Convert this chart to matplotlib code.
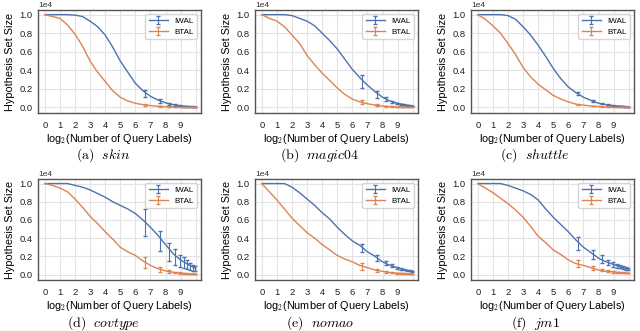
import numpy as np
import matplotlib
matplotlib.use("Agg")
from matplotlib import pyplot as plt

plt.rcParams['font.family'] = ['Liberation Sans', 'DejaVu Sans']
plt.rcParams['mathtext.fontset'] = 'cm'

BLUE = '#4c72b0'
ORANGE = '#dd8452'

# x = log2(number of query labels)
XS = [0, 0.5, 1, 1.5, 2, 2.5, 3, 3.5, 4, 4.5, 5, 5.5, 6, 6.5, 7, 7.5, 8, 8.5, 9, 9.5, 10]
QUERY_COUNTS = [100, 200, 300, 400, 500, 600, 700, 800, 900, 1000]

captions = ['(a)', '(b)', '(c)', '(d)', '(e)', '(f)']
names = ['skin', 'magic04', 'shuttle', 'covtype', 'nomao', 'jm1']

# hypothesis set size (x 1e4)
iwal_skin = [1.0, 1.0, 1.0, 1.0, 0.995, 0.98, 0.93, 0.87, 0.78, 0.65, 0.50, 0.38, 0.26, 0.18, 0.12, 0.08, 0.05, 0.03, 0.018, 0.01, 0.006]
btal_skin = [1.0, 0.98, 0.96, 0.89, 0.79, 0.66, 0.50, 0.38, 0.28, 0.18, 0.11, 0.07, 0.045, 0.03, 0.02, 0.013, 0.008, 0.005, 0.003, 0.002, 0.001]
iwal_magic = [1.0, 1.0, 1.0, 1.0, 0.99, 0.96, 0.93, 0.88, 0.80, 0.72, 0.63, 0.52, 0.41, 0.32, 0.24, 0.17, 0.11, 0.07, 0.045, 0.028, 0.015]
btal_magic = [1.0, 0.96, 0.93, 0.87, 0.78, 0.69, 0.56, 0.46, 0.37, 0.29, 0.21, 0.14, 0.09, 0.06, 0.04, 0.025, 0.015, 0.01, 0.006, 0.004, 0.002]
iwal_shuttle = [1.0, 1.0, 1.0, 1.0, 0.99, 0.95, 0.87, 0.78, 0.67, 0.55, 0.42, 0.31, 0.22, 0.16, 0.11, 0.075, 0.045, 0.03, 0.018, 0.012, 0.008]
btal_shuttle = [1.0, 0.95, 0.88, 0.80, 0.69, 0.57, 0.43, 0.33, 0.25, 0.19, 0.13, 0.09, 0.06, 0.035, 0.025, 0.015, 0.01, 0.006, 0.004, 0.002, 0.001]
iwal_covtype = [1.0, 1.0, 1.0, 1.0, 0.98, 0.96, 0.93, 0.89, 0.85, 0.80, 0.76, 0.72, 0.67, 0.60, 0.52, 0.43, 0.33, 0.23, 0.16, 0.11, 0.065]
btal_covtype = [1.0, 0.98, 0.95, 0.91, 0.83, 0.74, 0.64, 0.56, 0.47, 0.39, 0.30, 0.25, 0.21, 0.15, 0.10, 0.065, 0.04, 0.025, 0.015, 0.009, 0.005]
iwal_nomao = [1.0, 1.0, 1.0, 1.0, 0.96, 0.90, 0.83, 0.76, 0.68, 0.61, 0.52, 0.44, 0.37, 0.32, 0.25, 0.20, 0.14, 0.10, 0.075, 0.05, 0.035]
btal_nomao = [1.0, 0.91, 0.82, 0.72, 0.62, 0.54, 0.46, 0.40, 0.33, 0.27, 0.21, 0.17, 0.14, 0.10, 0.075, 0.05, 0.035, 0.022, 0.015, 0.01, 0.006]
iwal_jm1 = [1.0, 1.0, 1.0, 1.0, 0.98, 0.95, 0.92, 0.88, 0.82, 0.72, 0.63, 0.55, 0.47, 0.38, 0.30, 0.24, 0.18, 0.14, 0.11, 0.08, 0.06]
btal_jm1 = [1.0, 0.95, 0.90, 0.84, 0.78, 0.71, 0.63, 0.53, 0.42, 0.35, 0.27, 0.22, 0.16, 0.12, 0.10, 0.075, 0.05, 0.035, 0.03, 0.02, 0.015]

# error bar means / half widths at QUERY_COUNTS
iwal_skin_m = [0.15, 0.07, 0.04, 0.027, 0.019, 0.015, 0.012, 0.01, 0.008, 0.006]
iwal_skin_e = [0.04, 0.02, 0.012, 0.008, 0.006, 0.005, 0.004, 0.003, 0.003, 0.002]
btal_skin_m = [0.025, 0.012, 0.007, 0.005, 0.003, 0.002, 0.002, 0.002, 0.001, 0.001]
btal_skin_e = [0.01, 0.005, 0.003, 0.002, 0.002, 0.001, 0.001, 0.001, 0.001, 0.001]
iwal_magic_m = [0.28, 0.14, 0.09, 0.06, 0.045, 0.035, 0.028, 0.022, 0.018, 0.015]
iwal_magic_e = [0.07, 0.035, 0.018, 0.012, 0.008, 0.006, 0.005, 0.004, 0.003, 0.003]
btal_magic_m = [0.055, 0.025, 0.015, 0.01, 0.006, 0.005, 0.004, 0.003, 0.002, 0.002]
btal_magic_e = [0.02, 0.008, 0.005, 0.003, 0.002, 0.002, 0.001, 0.001, 0.001, 0.001]
iwal_shuttle_m = [0.15, 0.07, 0.04, 0.03, 0.02, 0.016, 0.013, 0.011, 0.009, 0.008]
iwal_shuttle_e = [0.015, 0.008, 0.005, 0.004, 0.003, 0.002, 0.002, 0.002, 0.001, 0.001]
btal_shuttle_m = [0.03, 0.015, 0.01, 0.006, 0.004, 0.003, 0.002, 0.002, 0.001, 0.001]
btal_shuttle_e = [0.005, 0.003, 0.002, 0.001, 0.001, 0.001, 0.001, 0.001, 0.001, 0.001]
iwal_covtype_m = [0.57, 0.37, 0.25, 0.19, 0.15, 0.13, 0.11, 0.09, 0.075, 0.065]
iwal_covtype_e = [0.15, 0.11, 0.10, 0.09, 0.07, 0.06, 0.05, 0.04, 0.035, 0.03]
btal_covtype_m = [0.13, 0.055, 0.035, 0.022, 0.015, 0.012, 0.009, 0.007, 0.006, 0.005]
btal_covtype_e = [0.06, 0.025, 0.015, 0.01, 0.008, 0.006, 0.005, 0.004, 0.003, 0.003]
iwal_nomao_m = [0.29, 0.18, 0.13, 0.1, 0.075, 0.065, 0.055, 0.045, 0.04, 0.035]
iwal_nomao_e = [0.045, 0.03, 0.02, 0.015, 0.012, 0.01, 0.008, 0.007, 0.006, 0.005]
btal_nomao_m = [0.09, 0.045, 0.03, 0.022, 0.015, 0.012, 0.01, 0.008, 0.007, 0.006]
btal_nomao_e = [0.04, 0.02, 0.012, 0.008, 0.006, 0.005, 0.004, 0.003, 0.003, 0.002]
iwal_jm1_m = [0.34, 0.22, 0.17, 0.13, 0.11, 0.095, 0.085, 0.075, 0.065, 0.06]
iwal_jm1_e = [0.07, 0.05, 0.04, 0.03, 0.025, 0.02, 0.018, 0.015, 0.013, 0.012]
btal_jm1_m = [0.12, 0.07, 0.05, 0.035, 0.03, 0.025, 0.022, 0.02, 0.017, 0.015]
btal_jm1_e = [0.04, 0.02, 0.015, 0.01, 0.008, 0.006, 0.005, 0.004, 0.004, 0.003]

iwal_all = [iwal_skin, iwal_magic, iwal_shuttle, iwal_covtype, iwal_nomao, iwal_jm1]
btal_all = [btal_skin, btal_magic, btal_shuttle, btal_covtype, btal_nomao, btal_jm1]
iwal_eb = [(iwal_skin_m, iwal_skin_e), (iwal_magic_m, iwal_magic_e), (iwal_shuttle_m, iwal_shuttle_e),
           (iwal_covtype_m, iwal_covtype_e), (iwal_nomao_m, iwal_nomao_e), (iwal_jm1_m, iwal_jm1_e)]
btal_eb = [(btal_skin_m, btal_skin_e), (btal_magic_m, btal_magic_e), (btal_shuttle_m, btal_shuttle_e),
           (btal_covtype_m, btal_covtype_e), (btal_nomao_m, btal_nomao_e), (btal_jm1_m, btal_jm1_e)]

W, H = 640, 331
fig = plt.figure(figsize=(W / 100, H / 100), dpi=100)

lefts = [38, 255, 471]
cap_centers = [103, 320, 535]
rows = [(10, 103, 155), (179, 101, 323)]
eb_x = np.log2(QUERY_COUNTS)

for i in range(6):
    r, c = divmod(i, 3)
    top, h, cap_y = rows[r]
    ax = fig.add_axes([lefts[c] / W, 1 - (top + h) / H, 163 / W, h / H])
    ax.set_facecolor('white')
    ax.grid(True, color='#e3e3e3', linewidth=0.8)
    ax.set_axisbelow(True)
    for s in ax.spines.values():
        s.set_color('#555555')
        s.set_linewidth(1.0)

    l1, = ax.plot(XS, iwal_all[i], color=BLUE, lw=1.0)
    l2, = ax.plot(XS, btal_all[i], color=ORANGE, lw=1.0)
    e1 = ax.errorbar(eb_x, iwal_eb[i][0], yerr=iwal_eb[i][1], fmt='none', ecolor=BLUE, elinewidth=0.8, capsize=1.2)
    e2 = ax.errorbar(eb_x, btal_eb[i][0], yerr=btal_eb[i][1], fmt='none', ecolor=ORANGE, elinewidth=0.8, capsize=1.2)

    ax.set_xlim(-0.45, 10.35)
    ax.set_ylim(-0.06, 1.05)
    ax.set_xticks(range(11))
    ax.set_xticklabels([str(k) for k in range(10)] + [''])
    ax.set_yticks([0.0, 0.2, 0.4, 0.6, 0.8, 1.0])
    ax.set_yticklabels(['0.0', '0.2', '0.4', '0.6', '0.8', '1.0'])
    ax.tick_params(axis='x', length=0, pad=5.5, labelsize=6.8, colors='#222222')
    ax.tick_params(axis='y', length=0, pad=4, labelsize=6.8, colors='#222222')
    ax.text(0.0, 1.01, '1e4', transform=ax.transAxes, fontsize=6, color='#333333', va='bottom', ha='left')

    ax.set_ylabel('Hypothesis Set Size', fontsize=7.8, labelpad=3)
    ax.set_xlabel(r'log$_2$(Number of Query Labels)', fontsize=7.8, labelpad=1.5)

    ax.legend([(l1, e1), (l2, e2)], ['IWAL', 'BTAL'], loc='upper right', fontsize=5.8,
              frameon=True, edgecolor='#cccccc', fancybox=True, handlelength=2.4,
              borderpad=0.4, labelspacing=0.4)

    fig.text(cap_centers[c] / W, 1 - cap_y / H, r'$\mathrm{' + captions[i] + r'}\ \ \mathit{' + names[i] + '}$',
             fontsize=10, ha='center', va='center')

fig.savefig('out.png', dpi=100)
